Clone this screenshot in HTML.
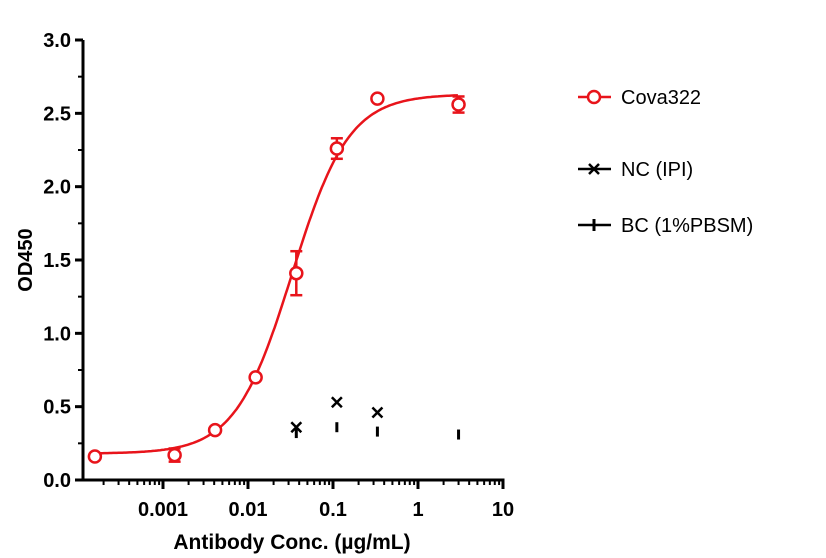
<!DOCTYPE html>
<html><head><meta charset="utf-8"><style>
body{margin:0;background:#fff;}
svg{display:block;font-family:"Liberation Sans",Arial,sans-serif;}
</style></head><body>
<svg id="chart" width="826" height="558" viewBox="0 0 826 558"></svg>
<script>
const concentrations=[0.000158,0.00137,0.0041,0.0123,0.037,0.111,0.333,3];
const covaValues=[0.16,0.17,0.34,0.70,1.41,2.26,2.60,2.56];
const covaErrors=[0,0.045,0,0,0.15,0.07,0,0.055];
const ncConc=[0.037,0.111,0.333];
const ncValues=[0.36,0.53,0.46];
const bcConc=[0.037,0.111,0.333,3];
const bcValues=[0.32,0.36,0.33,0.31];
const fitParams=[0.18,2.63,0.033,1.3];
const yTicks=[0,0.5,1.0,1.5,2.0,2.5,3.0];
const xTickValues=[0.001,0.01,0.1,1,10];
const xTickLabels=["0.001","0.01","0.1","1","10"];

const NS="http://www.w3.org/2000/svg";
const svg=document.getElementById('chart');
const X0=78,X1=503,Y0=480,Y1=40,AX=83;
function xs(v){return X0+(Math.log10(v)+4)/5*(X1-X0);}
function ys(v){return Y0-v/3*(Y0-Y1);}
function mk(t,a,p){const e=document.createElementNS(NS,t);for(const k in a)e.setAttribute(k,a[k]);(p||svg).appendChild(e);return e;}
const RED="#e8141b";
let e=mk('line',{x1:AX-1.5,y1:Y0,x2:X1+1.5,y2:Y0,stroke:'#000','stroke-width':3});


e=mk('line',{x1:AX,y1:Y0+1.5,x2:AX,y2:Y1,stroke:'#000','stroke-width':3});


yTicks.forEach(v=>{
 mk('line',{x1:AX-8,y1:ys(v),x2:AX,y2:ys(v),stroke:'#000','stroke-width':3});
 const t=mk('text',{x:AX-12,y:ys(v)+7,'text-anchor':'end','font-size':20,'font-weight':'bold'});
 t.textContent=v.toFixed(1);
 
 
});
for(let v=0.25;v<3;v+=0.5) mk('line',{x1:AX-5,y1:ys(v),x2:AX,y2:ys(v),stroke:'#000','stroke-width':2});
for(let d=-4;d<1;d++){for(let m=2;m<10;m++){const x=xs(m*Math.pow(10,d));if(x>AX+1)mk('line',{x1:x,y1:Y0,x2:x,y2:Y0+5,stroke:'#000','stroke-width':2});}}
xTickValues.forEach((v,i)=>{
 mk('line',{x1:xs(v),y1:Y0,x2:xs(v),y2:Y0+9,stroke:'#000','stroke-width':3});
 const t=mk('text',{x:xs(v),y:Y0+36,'text-anchor':'middle','font-size':20,'font-weight':'bold'});
 t.textContent=xTickLabels[i];
 
 
});
let t=mk('text',{x:292,y:549,'text-anchor':'middle','font-size':21,'font-weight':'bold'});
t.textContent='Antibody Conc. (µg/mL)';


t=mk('text',{x:32,y:260,'text-anchor':'middle','font-size':20,'font-weight':'bold',transform:'rotate(-90 32 260)'});
t.textContent='OD450';


const [B,T,EC,H]=fitParams;
let d='';
for(let i=0;i<=200;i++){const lx=-3.8+i*(0.47+3.8)/200;const v=Math.pow(10,lx);const y=B+(T-B)/(1+Math.pow(EC/v,H));d+=(i?'L':'M')+xs(v).toFixed(1)+','+ys(y).toFixed(1);}
e=mk('path',{d:d,fill:'none',stroke:RED,'stroke-width':2.5});


concentrations.forEach((c,i)=>{
 const x=xs(c),y=ys(covaValues[i]),er=covaErrors[i];
 if(er>0){const a=ys(covaValues[i]+er),b=ys(covaValues[i]-er);
  mk('line',{x1:x,y1:a,x2:x,y2:b,stroke:RED,'stroke-width':2.5});
  mk('line',{x1:x-6,y1:a,x2:x+6,y2:a,stroke:RED,'stroke-width':2.5});
  mk('line',{x1:x-6,y1:b,x2:x+6,y2:b,stroke:RED,'stroke-width':2.5});}
 const p=mk('circle',{cx:x,cy:y,r:6,fill:'#fff',stroke:RED,'stroke-width':2.5});
 
 
});
function cross(x,y){const g=mk('g',{stroke:'#000','stroke-width':2.5});mk('line',{x1:x-5,y1:y-5,x2:x+5,y2:y+5},g);mk('line',{x1:x-5,y1:y+5,x2:x+5,y2:y-5},g);return g;}
ncConc.forEach((c,i)=>{const g=cross(xs(c),ys(ncValues[i]));
 
 });
bcConc.forEach((c,i)=>{const y=ys(bcValues[i]);const g=mk('line',{x1:xs(c),y1:y-5,x2:xs(c),y2:y+5,stroke:'#000','stroke-width':3});
 
 });
function leg(y,label,kind,name){
 const g=mk('g',{});
 
 
 const col=kind==='c'?RED:'#000';
 mk('line',{x1:578,y1:y,x2:611,y2:y,stroke:col,'stroke-width':2.5},g);
 if(kind==='c')mk('circle',{cx:594,cy:y,r:6,fill:'#fff',stroke:RED,'stroke-width':2.5},g);
 if(kind==='x'){mk('line',{x1:589,y1:y-5,x2:599,y2:y+5,stroke:'#000','stroke-width':2.5},g);mk('line',{x1:589,y1:y+5,x2:599,y2:y-5,stroke:'#000','stroke-width':2.5},g);}
 if(kind==='b')mk('line',{x1:594,y1:y-6,x2:594,y2:y+6,stroke:'#000','stroke-width':3},g);
 const tt=mk('text',{x:621,y:y+7,'font-size':20},g);tt.textContent=label;
}
leg(97,'Cova322','c','legend-cova322');
leg(169,'NC (IPI)','x','legend-nc');
leg(225,'BC (1%PBSM)','b','legend-bc');
</script>
</body></html>
